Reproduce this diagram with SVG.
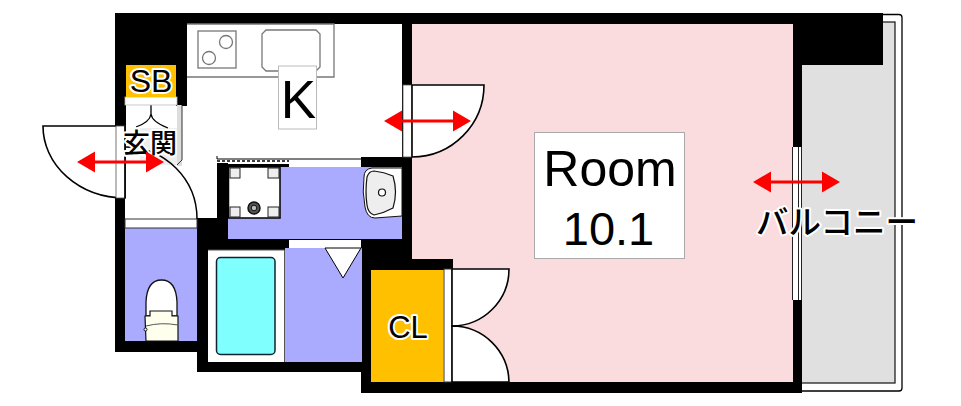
<svg xmlns="http://www.w3.org/2000/svg" width="961" height="406" viewBox="0 0 961 406">
<style>
.wall{fill:#000}
.lav{fill:#aaaaff}
.strip{fill:#fff;stroke:#333;stroke-width:1}
.door{fill:#fff;stroke:#000;stroke-width:1.6}
.fix{fill:#fff;stroke:#777;stroke-width:1.3}
.sq{fill:#eee;stroke:#222;stroke-width:1}
.lbl{font-family:"Liberation Sans",Arial,sans-serif;fill:#000}
.halo{paint-order:stroke;stroke:#fff;stroke-width:4px;stroke-linejoin:round}
.jp{font-family:"Noto Sans CJK JP","Liberation Sans",sans-serif;fill:#000;font-weight:500}
</style>
<defs>
<g id="arrow"><path d="M0 0L18 -10.500V-1.500H69V-10.500L87 0L69 10.500V1.500H18V10.500Z" fill="#ff0000"/></g>
</defs>
<rect width="961" height="406" fill="#fff"/>
<g id="balcony">
<path d="M800 14.500H899Q902 14.500 902 17.500V388Q902 391 899 391H800Z" fill="#fff" stroke="#000" stroke-width="1.300"/>
<rect x="800" y="22" width="95" height="361" fill="#e0e0e0" stroke="#222" stroke-width="1.300"/>
</g>
<g id="room"><rect x="412" y="24" width="382" height="359" fill="#fadcde"/></g>
<g id="walls">
<rect class="wall" x="115" y="13" width="768" height="11"/>
<rect class="wall" x="115" y="13" width="72" height="52"/>
<rect class="wall" x="115" y="13" width="11" height="113"/>
<rect class="wall" x="176" y="13" width="11" height="93"/>
<rect class="wall" x="115" y="198" width="10" height="154"/>
<rect class="wall" x="115" y="341" width="93" height="11"/>
<rect class="wall" x="197" y="218" width="11" height="154"/>
<rect class="wall" x="197" y="362" width="175" height="10"/>
<rect class="wall" x="197" y="218" width="31" height="32"/>
<rect class="wall" x="217" y="163" width="11" height="65"/>
<rect class="wall" x="228" y="164" width="61" height="3"/>
<rect class="wall" x="361" y="157" width="51" height="10"/>
<rect class="wall" x="402" y="24" width="10" height="245"/>
<rect class="wall" x="197" y="239" width="215" height="11"/>
<rect class="wall" x="361" y="239" width="51" height="31"/>
<rect class="wall" x="361" y="259" width="92" height="11"/>
<rect class="wall" x="361" y="259" width="11" height="134"/>
<rect class="wall" x="361" y="382" width="441" height="11"/>
<rect class="wall" x="793" y="13" width="9" height="380"/>
<rect class="wall" x="793" y="13" width="90" height="52"/>
</g>
<g id="kitchen">
<rect x="187" y="24" width="215" height="133" fill="#fff"/>
<path class="fix" d="M187 24H334V77H187" fill="none"/>
<rect class="fix" x="198" y="31" width="38" height="37"/>
<circle class="fix" cx="209" cy="58" r="6.500"/>
<circle class="fix" cx="226" cy="42" r="6.500"/>
<path class="fix" d="M266 30H316L320 34V67L316 71H266L262 67V34Z"/>
<path d="M217 156V159H361" fill="none" stroke="#000" stroke-width="1"/>
<path d="M217 161H289" stroke="#000" stroke-width="1.500" stroke-dasharray="3 2"/>
<rect x="278.500" y="66" width="38" height="63" fill="#fff" stroke="#bbb" stroke-width="1"/>
<text class="lbl" x="298.500" y="118" font-size="53" text-anchor="middle">K</text>
</g>
<g id="washroom">
<rect class="lav" x="228" y="167" width="174" height="72"/>
<rect x="289" y="160" width="72" height="7" fill="#fff"/>
<rect x="228.500" y="167" width="51.500" height="51" fill="#fff" stroke="#000" stroke-width="1.500"/>
<rect class="sq" x="230" y="168" width="10" height="10"/>
<rect class="sq" x="268" y="168" width="11" height="10"/>
<rect class="sq" x="230" y="207" width="10" height="10"/>
<rect class="sq" x="268" y="207" width="11" height="10"/>
<circle cx="254" cy="208" r="6" fill="#555" stroke="#111" stroke-width="1.500"/>
<circle cx="254" cy="208" r="2.800" fill="#bbb" stroke="#111" stroke-width="1"/>
<path d="M402 168H372Q364 169 364 177Q362 192 365 207Q367 218 375 218L402 216Z" fill="#fff" stroke="#111" stroke-width="1"/>
<path d="M374 171Q384 172 393 176Q398 192 393 208Q384 213 374 215Q368 213 367 205Q365 192 367 177Q369 171 374 171Z" fill="#eee" stroke="#111" stroke-width="1.200"/>
<circle cx="382" cy="192.500" r="3.500" fill="#fff" stroke="#111" stroke-width="1.200"/>
</g>
<g id="bath">
<rect x="208" y="250" width="77" height="112" fill="#fff"/>
<path d="M208 250H284.500V362" fill="none" stroke="#555" stroke-width="1"/>
<rect class="lav" x="285" y="248" width="77" height="114"/>
<rect x="289" y="240" width="72" height="8" fill="#fff"/>
<rect x="216.500" y="257.500" width="58.500" height="97" rx="4" fill="#80ffff" stroke="#123" stroke-width="1.500"/>
<path d="M325 248H361L343 278Z" fill="#fff" stroke="#000" stroke-width="1"/>
</g>
<g id="toilet">
<rect class="lav" x="125" y="228" width="72" height="113"/>
<rect class="strip" x="125" y="219" width="72" height="9"/>
<path d="M146 316V302Q147 280 161.500 280Q176 280 177 302V316Z" fill="#fff" stroke="#111" stroke-width="1.300"/>
<path d="M146 341L145 316H150V311H172V316H178V341Z" fill="#ffffee" stroke="#111" stroke-width="1.200"/>
<path d="M146 326Q161 322 178 325" fill="none" stroke="#555" stroke-width="1"/>
<circle cx="145.500" cy="329.500" r="1.500" fill="#fff" stroke="#111"/>
</g>
<g id="entry">
<rect x="177" y="105" width="5" height="61" fill="#ddd"/>
<path d="M182 105V160L177 165" fill="none" stroke="#333" stroke-width="1"/>
<path d="M140 160V128H177V165H150Z" fill="#eeeeee"/>
<path d="M151 105V114Q150 122 136 127M151 114Q152 122 168 128" fill="none" stroke="#000" stroke-width="1.300"/>
<rect x="125" y="97" width="52" height="8" fill="#fff" stroke="#bbb" stroke-width="0.800"/>
<path d="M125 147A72 72 0 0 1 197 219" fill="none" stroke="#000" stroke-width="1.500"/>
<path class="door" d="M125 126H43A82 72 0 0 0 125 198Z"/>
<rect x="116" y="126" width="9" height="72" fill="#fff" stroke="#555" stroke-width="0.800"/>
<path d="M125 126V198" stroke="#000" stroke-width="1.600"/>
<text class="jp halo" x="150" y="153" font-size="27" text-anchor="middle">玄関</text>
</g>
<g id="sb">
<rect x="126" y="65" width="50" height="32" fill="#ffc000"/>
<text class="lbl halo" x="151" y="92" font-size="32" text-anchor="middle" stroke="#fff">SB</text>
</g>
<g id="cl">
<rect x="371" y="270" width="72" height="112" fill="#ffc000"/>
<rect class="strip" x="444" y="269" width="8" height="113"/>
<path class="door" d="M452 269H509A57 57 0 0 1 452 326Z"/>
<path class="door" d="M452 326A57 57 0 0 1 509 382H452Z"/>
<text class="lbl halo" x="408" y="338" font-size="31" text-anchor="middle">CL</text>
</g>
<g id="room-door">
<rect x="403" y="85" width="9" height="72" fill="#fff" stroke="#555" stroke-width="0.800"/>
<path class="door" d="M412 85H484A72 72 0 0 1 412 157Z"/>
</g>
<g id="window">
<rect x="793" y="147" width="8.500" height="153" fill="#fff"/>
<path d="M792.500 147V300M798.500 147V300M801.500 147V300" stroke="#222" stroke-width="1"/>
</g>
<g id="room-label">
<rect x="534.500" y="132.500" width="150" height="126" fill="#fff" stroke="#aaa" stroke-width="1"/>
<text class="lbl" x="610" y="186" font-size="50" text-anchor="middle">Room</text>
<text class="lbl" x="608.500" y="245" font-size="47" text-anchor="middle">10.1</text>
</g>
<g id="balcony-label">
<text class="jp halo" x="837" y="234" font-size="32.500" text-anchor="middle">バルコニー</text>
</g>
<g id="connectors">
<use href="#arrow" x="77" y="162"/>
<use href="#arrow" x="384" y="121"/>
<use href="#arrow" x="753" y="182"/>
</g>
</svg>
